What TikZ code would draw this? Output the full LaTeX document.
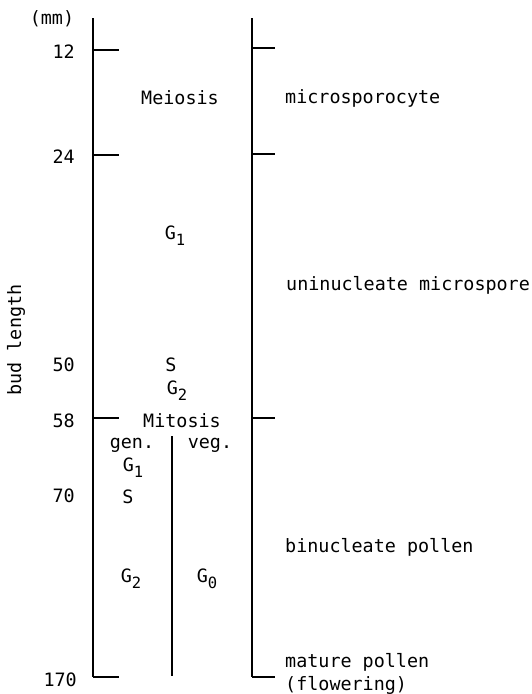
\documentclass[tikz,border=0pt]{standalone}
\usepackage{fontspec}
\setmainfont{DejaVu Sans Mono}
\newcommand{\sub}[2]{#1\raisebox{-0.6ex}{\fontsize{15.5}{15.5}\selectfont #2}}
\tikzset{
  ax/.style={line width=1.6pt},
  lbl/.style={inner sep=0pt, font=\fontsize{18.4}{21}\selectfont},
  num/.style={lbl, anchor=east},
  txt/.style={lbl, anchor=west},
}
\begin{document}
\begin{tikzpicture}[x=1pt,y=-1pt]
\useasboundingbox (0,0) rectangle (531,694);
% axes
\coordinate (Ltop) at (93,18);
\coordinate (Lbot) at (93,677);
\coordinate (Rtop) at (252,18);
\coordinate (Rbot) at (252,677);
\coordinate (Mtop) at (172,436);
\coordinate (Mbot) at (172,676);
\draw[ax] (Ltop) -- (Lbot);
\draw[ax] (Rtop) -- (Rbot);
\draw[ax] (Mtop) -- (Mbot);
% left ticks
\foreach \y/\n in {50/a,155/b,418/c,677/d}{
  \coordinate (lt\n) at (93,\y);
  \coordinate (lt\n e) at (119,\y);
  \draw[ax] (lt\n) -- (lt\n e);
}
% right ticks
\foreach \y/\n in {48/a,154/b,418/c,677/d}{
  \coordinate (rt\n) at (252,\y);
  \coordinate (rt\n e) at (275,\y);
  \draw[ax] (rt\n) -- (rt\n e);
}
% numbers
\node[lbl] (mm) at (52,19) {(mm)};
\node[num] (n12) at (75,52) {12};
\node[num] (n24) at (75,157) {24};
\node[num] (n50) at (75,365) {50};
\node[num] (n58) at (75,421) {58};
\node[num] (n70) at (75,496) {70};
\node[num] (n170) at (77,680) {170};
\node[lbl, rotate=90] (bud) at (16,340) {bud length};
% stage labels
\node[lbl] (meiosis) at (180,98) {Meiosis};
\node[lbl] (g1a) at (175,236) {\sub{G}{1}};
\node[lbl] (s1) at (171,365) {S};
\node[lbl] (g2a) at (177,391) {\sub{G}{2}};
\node[lbl] (mitosis) at (182,421) {Mitosis};
\node[lbl] (gen) at (132,445) {gen.};
\node[lbl] (veg) at (210,445) {veg.};
\node[lbl] (g1b) at (133,468) {\sub{G}{1}};
\node[lbl] (s2) at (128,497) {S};
\node[lbl] (g2b) at (131,579) {\sub{G}{2}};
\node[lbl] (g0) at (207,579) {\sub{G}{0}};
% right labels
\node[txt] (micro) at (285,98) {microsporocyte};
\node[txt] (uni) at (286,285) {uninucleate microspore};
\node[txt] (bin) at (285,547) {binucleate pollen};
\node[txt] (mat) at (285,662) {mature pollen};
\node[txt] (flow) at (285,685) {(flowering)};
\end{tikzpicture}
\end{document}
